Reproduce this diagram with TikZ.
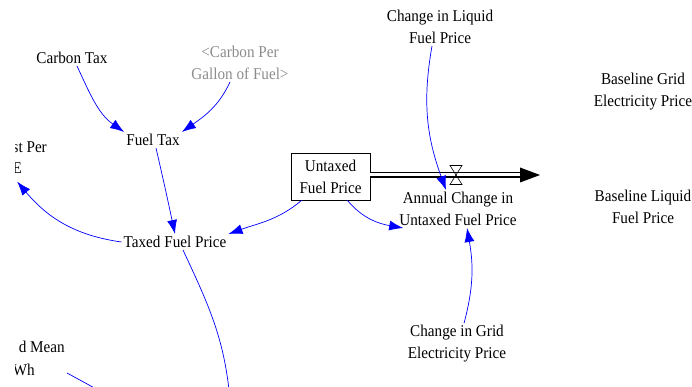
\documentclass[tikz,border=0pt]{standalone}
\usepackage{fontspec}
\setmainfont{Liberation Serif}[FakeStretch=0.92]
\usepackage{tikz}
\usetikzlibrary{arrows.meta}
\usepackage{xcolor}

\tikzset{
  var/.style={font=\fontsize{16.5}{22}\selectfont, align=center, inner sep=2pt},
  shadowvar/.style={var, text=black!45},
  stock/.style={var, draw, line width=0.6pt, minimum width=79pt, minimum height=47pt},
  link/.style={blue, line width=0.7pt, -{Latex[length=14pt,width=10pt]}},
  linkline/.style={blue, line width=0.7pt},
}

\begin{document}
\begin{tikzpicture}[x=1pt,y=1pt]
    \useasboundingbox (0,0) rectangle (692,-387);
    \clip (15.5,0) rectangle (692,-387);

    % Variables
    \node[var] (ctax) at (72,-58) {Carbon Tax};
    \node[shadowvar] (cpg) at (240,-63) {<Carbon Per\\Gallon of Fuel>};
    \node[var] (ftax) at (153,-140) {Fuel Tax};
    \node[var, anchor=east] (costA) at (49,-147) {st Per};
    \node[var, anchor=east] (costE) at (24,-168) {E};
    \node[var] (taxed) at (175,-242) {Taxed Fuel Price};
    \node[var, anchor=east] (meanA) at (67,-347) {d Mean};
    \node[var, anchor=east] (meanB) at (37,-370) {Wh};
    \node[var] (cliquid) at (440,-27) {Change in Liquid\\Fuel Price};
    \node[var] (annual) at (458,-209) {Annual Change in\\Untaxed Fuel Price};
    \node[var] (cgrid) at (457,-344) {Change in Grid\\Electricity Price};
    \node[var] (bgrid) at (643,-92) {Baseline Grid\\Electricity Price};
    \node[var] (bliquid) at (643,-207) {Baseline Liquid\\Fuel Price};

    % Stock and flow
    \node[stock] (untaxed) at (330.5,-176.5) {Untaxed\\Fuel Price};
    \coordinate (flowend) at (520,-175);
    \coordinate (valve) at (456,-175);
    \draw[double distance=3pt, line width=1.2pt] (untaxed.east |- flowend) -- (flowend);
    \fill (flowend) ++(0,7.5) -- ++(20,-7.5) -- ++(-20,-7.5) -- cycle;
    \draw[line width=0.6pt] (valve) ++(-6,9.5) -- ++(12,0) -- ++(-12,-19) -- ++(12,0) -- cycle;

    % Links
    \draw[link] ([xshift=5pt]ctax.south) to[out=-65, in=145] (ftax.north west);
    \draw[link] ([xshift=-10pt]cpg.south) to[out=-115, in=35] (ftax.north east);
    \draw[link] ([xshift=3pt]ftax.south) to[out=-77, in=102] (taxed.north);
    \draw[link] (taxed.west) to[out=172, in=-50] ([yshift=-6pt]costE.south);
    \draw[link] ([xshift=11pt]untaxed.south west) to[out=-140, in=20] (taxed.north east);
    \draw[link] ([xshift=-23pt]untaxed.south east) to[out=-50, in=170] ([xshift=6pt]annual.south west);
    \draw[link] ([xshift=-8pt]cliquid.south) to[out=-100, in=110] ([xshift=-12pt]annual.north);
    \draw[link] ([xshift=7pt]cgrid.north) to[out=75, in=-80] ([xshift=9pt]annual.south);

    % Links leaving the view
    \coordinate (offtaxed) at (230,-400);
    \coordinate (offmean) at (100,-391);
    \draw[linkline] ([xshift=8pt]taxed.south) to[out=-65, in=95] (offtaxed);
    \draw[linkline] ([xshift=30pt,yshift=-3pt]meanB.east) -- (offmean);
\end{tikzpicture}
\end{document}
